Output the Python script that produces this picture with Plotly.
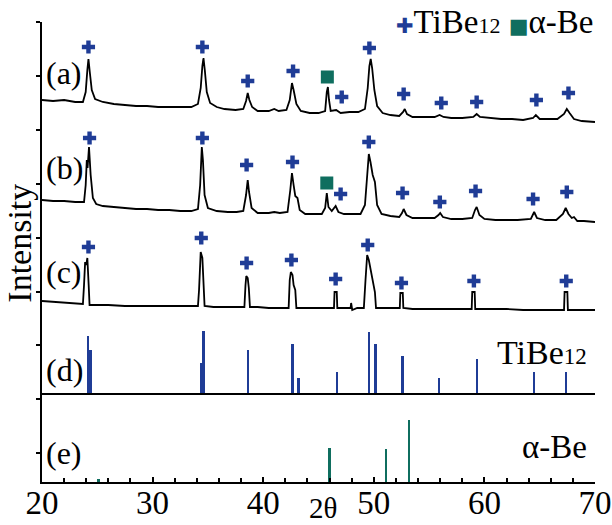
import plotly.graph_objects as go

# ---------------- data (2θ in degrees, intensities in relative units) ----------------
a_x = [20.0, 21.0, 22.0, 23.0, 23.7, 23.95, 24.1, 24.2, 24.32, 24.5, 24.8, 25.5, 26.5, 27.5, 28.5, 29.5, 30.5, 31.5, 32.5, 33.5,
       34.1, 34.35, 34.5, 34.6, 34.72, 34.9, 35.2, 35.8, 36.5, 37.5, 38.2, 38.45, 38.6, 38.75, 39.0, 39.5, 40.5, 41.0, 41.4,
       42.1, 42.4, 42.6, 42.75, 43.0, 43.4, 44.2, 45.0, 45.6, 45.75, 45.85, 45.95, 46.1, 46.6, 47.0, 47.8, 48.6, 49.2, 49.45,
       49.6, 49.72, 49.85, 50.05, 50.3, 50.8, 51.5, 52.3, 52.65, 52.8, 53.0, 53.5, 54.5, 55.5, 55.95, 56.3, 57.0, 58.0, 59.0,
       59.3, 59.6, 60.5, 61.5, 62.5, 63.5, 64.4, 64.65, 65.0, 65.8, 66.6, 67.2, 67.45, 67.7, 68.1, 68.8, 70.0]
a_y = [25, 24, 25, 23, 23, 33, 55, 66, 53, 35, 26, 23, 21, 20, 19, 19, 18, 18, 18, 18,
       21, 37, 59, 67, 55, 33, 22, 18, 16, 15, 16, 24, 32, 25, 18, 14, 14, 16, 14,
       15, 25, 42, 35, 21, 14, 12, 12, 14, 33, 38, 25, 14, 15, 12, 13, 13, 16, 37,
       59, 66, 57, 35, 19, 12, 10, 9, 13, 16, 11, 8, 8, 8, 10, 8, 7, 7, 8,
       11, 8, 7, 6, 6, 5, 7, 10, 6, 6, 6, 11, 16, 12, 6, 4, 3]

b_x = [20.0, 21.0, 22.0, 23.0, 23.8, 23.95, 24.05, 24.12, 24.25, 24.4, 24.6, 24.9, 25.5, 26.5, 27.5, 28.5, 29.5, 30.5, 31.5,
       32.5, 33.5, 34.1, 34.3, 34.45, 34.55, 34.7, 35.0, 35.8, 36.8, 37.6, 38.2, 38.45, 38.6, 38.72, 38.95, 39.5, 40.5, 41.0,
       41.5, 42.2, 42.45, 42.6, 42.75, 42.9, 43.1, 43.3, 43.8, 44.5, 45.3, 45.6, 45.75, 45.9, 46.2, 46.55, 46.8, 47.3, 48.0,
       48.8, 49.2, 49.4, 49.55, 49.7, 49.9, 50.1, 50.3, 50.7, 51.5, 52.3, 52.55, 52.7, 52.95, 53.5, 54.5, 55.5, 55.85, 56.0,
       56.25, 57.0, 58.0, 58.9, 59.15, 59.3, 59.55, 60.0, 61.0, 62.0, 63.0, 64.2, 64.5, 64.75, 65.5, 66.5, 67.1, 67.35, 67.6,
       67.9, 68.1, 68.4, 69.0, 70.0]
b_y = [25, 24, 24, 23, 23, 40, 65, 57, 78, 50, 27, 21, 19, 18, 17, 16, 16, 15, 15,
       14, 14, 16, 40, 78, 65, 30, 17, 14, 13, 13, 14, 30, 45, 33, 17, 12, 12, 13,
       12, 13, 35, 52, 40, 29, 27, 15, 11, 11, 11, 17, 32, 18, 14, 19, 13, 11, 11,
       11, 20, 55, 71, 63, 50, 43, 20, 11, 9, 8, 12, 16, 10, 7, 7, 7, 10, 12,
       8, 6, 6, 7, 15, 18, 10, 6, 5, 5, 5, 6, 13, 7, 5, 5, 11, 17, 11,
       7, 8, 4, 4, 3]

c_x = [20.0, 21.0, 22.0, 23.0, 23.7, 23.8, 23.9, 24.0, 24.1, 24.22, 24.3, 25.0, 26.0, 27.5, 29.0, 30.5, 32.0, 33.5, 34.1,
       34.2, 34.35, 34.5, 34.6, 34.7, 35.5, 36.5, 37.5, 38.3, 38.4, 38.47, 38.6, 38.7, 38.8, 39.5, 40.5, 41.5, 42.3, 42.4,
       42.5, 42.65, 42.75, 42.9, 43.0, 44.0, 45.0, 46.0, 46.4, 46.45, 46.65, 46.7, 47.3, 47.9, 47.95, 48.05, 48.5, 49.1,
       49.25, 49.4, 49.55, 49.75, 49.95, 50.1, 50.2, 51.0, 52.0, 52.35, 52.4, 52.62, 52.67, 53.5, 55.0, 56.5, 58.0, 58.85,
       58.9, 59.12, 59.17, 60.5, 62.0, 63.5, 65.0, 66.5, 67.2, 67.25, 67.5, 67.55, 68.5, 70.0]
c_y = [11, 10, 9, 8, 8, 27, 50, 47, 54, 27, 7, 7, 7, 6, 6, 6, 6, 6, 6,
       22, 60, 54, 27, 6, 5, 5, 5, 5, 27, 36, 34, 24, 5, 5, 4, 4, 4, 32,
       40, 37, 27, 22, 4, 4, 4, 4, 4, 20, 20, 4, 4, 4, 9, 2, 4, 4,
       32, 57, 52, 40, 32, 20, 4, 4, 4, 4, 19, 19, 4, 3, 3, 3, 3, 3,
       20, 20, 3, 3, 3, 2, 2, 2, 2, 20, 20, 2, 2, 2]

# peak identification markers (2θ, marker height in the pattern's relative units)
tib_a_x = [24.2, 34.5, 38.6, 42.7, 47.1, 49.6, 52.7, 56.1, 59.3, 64.7, 67.6]
tib_a_y = [78, 78, 44, 54, 28, 77, 31, 22, 23, 25, 32]
tib_b_x = [24.3, 34.5, 38.5, 42.65, 47.0, 49.55, 52.6, 55.97, 59.2, 64.4, 67.45]
tib_b_y = [87, 87, 60, 63, 31, 83, 32, 23, 34, 26, 33]
tib_c_x = [24.2, 34.4, 38.5, 42.55, 46.55, 49.45, 52.5, 59.05, 67.4]
tib_c_y = [65, 74, 49, 52, 33, 67, 29, 31, 31]
be_a_x, be_a_y = [45.8], [48]
be_b_x, be_b_y = [45.75], [42]

# reference stick patterns
tibe12_ref_x = [24.15, 24.39, 34.43, 34.6, 38.6, 42.65, 43.2, 46.7, 49.6, 50.15, 52.6, 55.9, 59.3, 64.5, 67.4]
tibe12_ref_y = [58, 44, 31, 63, 44, 50, 16, 22, 62, 50, 38, 16, 35, 22, 22]
be_ref_x = [25.1, 46.0, 51.1, 53.2]
be_ref_y = [3, 34, 33, 62]

x_ticks = [20, 30, 40, 50, 60, 70]

# ---------------- styling / layout constants ----------------
OFF_A, OFF_B, OFF_C, OFF_D, OFF_E = 357, 257, 170, 88, 0
BLUE = "#1f3c96"
TEAL = "#0f6e5f"
SERIF = "Liberation Serif"

fig = go.Figure()

for xs, ys, off in [(a_x, a_y, OFF_A), (b_x, b_y, OFF_B), (c_x, c_y, OFF_C)]:
    fig.add_trace(go.Scatter(x=xs, y=[v + off for v in ys], mode="lines",
                             line=dict(color="black", width=1.8), showlegend=False, hoverinfo="skip"))

# reference sticks
fig.add_trace(go.Bar(x=tibe12_ref_x, y=tibe12_ref_y, base=OFF_D, width=0.2,
                     marker=dict(color=BLUE, line=dict(width=0)), showlegend=False))
fig.add_trace(go.Bar(x=be_ref_x, y=be_ref_y, base=OFF_E, width=0.2,
                     marker=dict(color=TEAL, line=dict(width=0)), showlegend=False))

# markers
tib_x = tib_a_x + tib_b_x + tib_c_x
tib_y = [v + OFF_A for v in tib_a_y] + [v + OFF_B for v in tib_b_y] + [v + OFF_C for v in tib_c_y]
fig.add_trace(go.Scatter(x=tib_x, y=tib_y, mode="markers", cliponaxis=False, showlegend=False,
                         marker=dict(symbol="cross", size=11, color=BLUE, line=dict(width=0)),
                         name="TiBe12"))
be_x = be_a_x + be_b_x
be_y = [v + OFF_A for v in be_a_y] + [v + OFF_B for v in be_b_y]
fig.add_trace(go.Scatter(x=be_x, y=be_y, mode="markers", cliponaxis=False, showlegend=False,
                         marker=dict(symbol="square", size=13, color=TEAL, line=dict(width=0)),
                         name="α-Be"))

# separator / baseline of (d)
fig.add_shape(type="line", xref="x", yref="y", x0=20, x1=70, y0=OFF_D, y1=OFF_D,
              line=dict(color="black", width=2))

labels = [("(a)", 409), ("(b)", 314), ("(c)", 210), ("(d)", 112), ("(e)", 29)]
for t, yy in labels:
    fig.add_annotation(x=20.2, y=yy, xref="x", yref="y", text=t, showarrow=False,
                       xanchor="left", yanchor="middle", font=dict(family=SERIF, size=32, color="black"))

fig.add_annotation(x=69.5, y=130, xref="x", yref="y", text="TiBe<span style='font-size:23px'>12</span>",
                   showarrow=False, xanchor="right", yanchor="middle",
                   font=dict(family=SERIF, size=34, color="black"))
fig.add_annotation(x=69.5, y=35, xref="x", yref="y", text="α-Be",
                   showarrow=False, xanchor="right", yanchor="middle",
                   font=dict(family=SERIF, size=33, color="black"))
# key (legend) at top right
key_text = (f"<span style='color:{BLUE};font-family:DejaVu Sans;font-size:21px'>✚</span>"
            "TiBe<span style='font-size:22px'>12</span> "
            f"<span style='color:{TEAL};font-family:DejaVu Sans;font-size:21px'>■</span>α-Be")
fig.add_annotation(x=1.0, y=1.0, xref="paper", yref="paper", text=key_text,
                   showarrow=False, xanchor="right", yanchor="middle",
                   font=dict(family=SERIF, size=33, color="black"))
fig.add_annotation(x=-0.04, y=0.52, xref="paper", yref="paper", text="Intensity", textangle=-90,
                   showarrow=False, xanchor="center", yanchor="middle",
                   font=dict(family=SERIF, size=34, color="black"))
fig.add_annotation(x=45.4, y=-0.0925, xref="x", yref="paper", text="2θ", borderpad=0,
                   showarrow=False, xanchor="center", yanchor="bottom",
                   font=dict(family=SERIF, size=29, color="black"))

fig.update_layout(
    width=612, height=525,
    margin=dict(l=42, r=17, t=22, b=43, autoexpand=False),
    paper_bgcolor="white", plot_bgcolor="white",
    barmode="overlay", bargap=0,
    showlegend=False,
    xaxis=dict(range=[20, 70], tickmode="array", tickvals=x_ticks, ticktext=[str(v) for v in x_ticks],
               showgrid=False, zeroline=False, showline=True, linecolor="black", linewidth=2,
               ticks="inside", ticklen=5, tickwidth=2, tickcolor="black", automargin=False,
               ticklabelstandoff=-10,
               minor=dict(dtick=2, ticks="inside", ticklen=4, tickwidth=2, tickcolor="black", showgrid=False),
               tickfont=dict(family=SERIF, size=33, color="black")),
    yaxis=dict(range=[0, 460], tickmode="linear", tick0=460, dtick=53.9, showticklabels=False,
               showgrid=False, zeroline=False, showline=True, linecolor="black", linewidth=2, automargin=False,
               ticks="outside", ticklen=4, tickwidth=2, tickcolor="black"),
)

fig.write_html("out.html", config={"displayModeBar": False},
               post_script="document.body.style.margin='0px';")
